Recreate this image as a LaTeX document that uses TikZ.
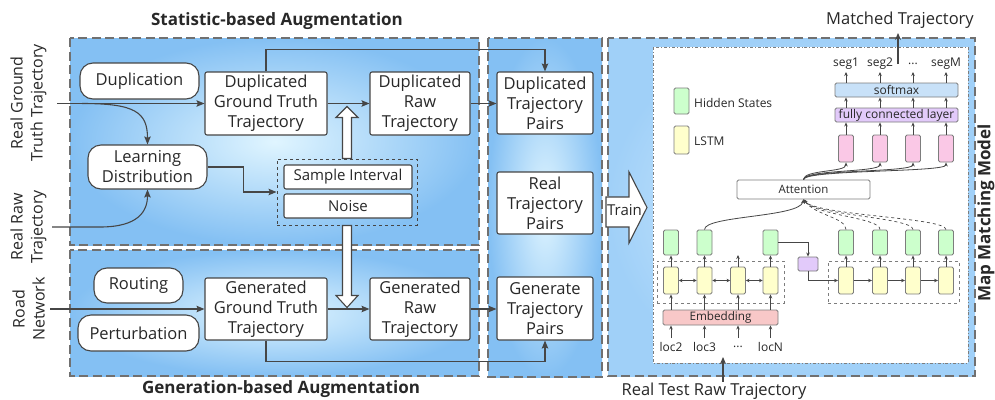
\documentclass[tikz,border=0pt]{standalone}
\usepackage{fontspec}
\setmainfont{Open Sans}
\usetikzlibrary{arrows.meta,calc}

\definecolor{edgegray}{RGB}{70,70,70}
\definecolor{dashgray}{RGB}{112,112,112}
\definecolor{cellgray}{RGB}{125,125,125}
\definecolor{txt}{RGB}{40,40,40}
\definecolor{panelout}{RGB}{132,192,243}
\definecolor{panelin}{RGB}{224,245,255}
\definecolor{modelout}{RGB}{160,208,248}
\definecolor{modelin}{RGB}{215,238,255}
\definecolor{hidgreen}{RGB}{204,255,204}
\definecolor{lstmyellow}{RGB}{255,255,204}
\definecolor{pinkcell}{RGB}{250,200,230}
\definecolor{embred}{RGB}{248,200,200}
\definecolor{smblue}{RGB}{200,225,248}
\definecolor{fcpurple}{RGB}{226,202,250}

\tikzset{
  panel/.style={draw=dashgray, line width=2.8pt, dash pattern=on 9pt off 4.5pt,
    inner color=panelin, outer color=panelout},
  title/.style={font=\fontsize{17}{20}\selectfont\bfseries, text=txt, inner sep=1pt},
  sidelabel/.style={rotate=90, align=center, text=txt, inner sep=1pt,
    font=\fontsize{16}{20}\selectfont},
  box/.style={draw=edgegray, line width=1.1pt, fill=white, rounded corners=2pt,
    align=center, inner sep=0pt, text=txt, font=\fontsize{16.5}{20}\selectfont},
  pill/.style={box, rounded corners=13pt},
  smallbox/.style={box, font=\fontsize{15}{17}\selectfont},
  conn/.style={draw=edgegray, line width=1.1pt,
    -{Stealth[length=8pt,width=6.5pt,inset=1.5pt]}},
  hollow/.style={draw=edgegray, line width=1.1pt, fill=white, line join=miter},
  cell/.style={draw=cellgray, line width=0.9pt, rounded corners=1.5pt,
    minimum width=15pt, inner sep=0pt},
  hid/.style={cell, fill=hidgreen, minimum height=25pt},
  lstm/.style={cell, fill=lstmyellow, minimum height=27pt},
  pinkc/.style={cell, fill=pinkcell, minimum height=27pt},
  layer/.style={cell, minimum width=123pt, minimum height=14pt, text=txt,
    font=\fontsize{12}{13}\selectfont},
  mtext/.style={text=txt, inner sep=1pt, font=\fontsize{12}{14}\selectfont},
  sarr/.style={draw=edgegray, line width=0.8pt, -{Stealth[length=4pt,width=3.5pt]}},
  darr/.style={draw=edgegray, line width=0.8pt,
    {Stealth[length=3.5pt,width=3.5pt]}-{Stealth[length=3.5pt,width=3.5pt]}},
  grpbox/.style={draw=cellgray, line width=0.8pt, dashed},
  bigarr/.style={draw=edgegray, line width=1.4pt, -{Stealth[length=7pt,width=6pt]}},
  outtext/.style={text=txt, inner sep=1pt, font=\fontsize{16.5}{19}\selectfont},
}

\begin{document}
\begin{tikzpicture}[x=1pt,y=-1pt]
\useasboundingbox[fill=white] (0,0) rectangle (995,399);

% ---------- panels ----------
\shadedraw[panel] (70,38) rectangle (479,245);
\shadedraw[panel] (70,250) rectangle (479,376);
\shadedraw[panel] (488,38) rectangle (602,377);
\shadedraw[panel, inner color=modelin, outer color=modelout] (608,38) rectangle (975,376);
\draw[draw=cellgray, line width=0.8pt, dash dot, fill=white] (653,47) rectangle (968,363);

% ---------- titles ----------
\node[title] (sttitle) at (277,21) {Statistic-based Augmentation};
\node[title] (gentitle) at (281,389) {Generation-based Augmentation};
\node[title, rotate=90] (mmtitle) at (986,213) {Map Matching Model};

% ---------- inputs ----------
\node[sidelabel] (gtlabel) at (28.5,103) {Real Ground\\Truth Trajectory};
\node[sidelabel] (rawlabel) at (28.5,227) {Real Raw\\Trajectory};
\node[sidelabel] (roadlabel) at (28.5,309) {Road\\Network};
\coordinate (gtin) at (57,103.5);
\coordinate (gtbranch) at (82,103.5);
\coordinate (rawin) at (52,227);
\coordinate (roadin) at (50,309);

% ---------- statistic-based augmentation ----------
\node[pill, minimum width=119pt, minimum height=36pt] (dup) at (139.5,81) {Duplication};
\node[box, minimum width=122pt, minimum height=63pt] (gtdup) at (266,103.5)
  {Duplicated\\Ground Truth\\Trajectory};
\node[box, minimum width=100pt, minimum height=63pt] (rawdup) at (420,103.5)
  {Duplicated\\Raw\\Trajectory};
\node[pill, minimum width=119pt, minimum height=44pt]
  (learn) at (147.5,167) {Learning\\Distribution};
\node[grpbox, draw=edgegray, line width=1pt, minimum width=140pt, minimum height=66pt]
  (sgrp) at (347,192) {};
\node[smallbox, minimum width=128pt, minimum height=24pt] (samp) at (348,177) {Sample Interval};
\node[smallbox, minimum width=128pt, minimum height=24pt] (noise) at (348,206) {Noise};

% ---------- generation-based augmentation ----------
\node[pill, minimum width=89pt, minimum height=35pt] (routing) at (138.5,285.5) {Routing};
\node[pill, minimum width=121pt, minimum height=36pt] (perturb) at (138.5,333) {Perturbation};
\node[box, minimum width=122pt, minimum height=62pt] (gtgen) at (266,309)
  {Generated\\Ground Truth\\Trajectory};
\node[box, minimum width=100pt, minimum height=62pt] (rawgen) at (420,309)
  {Generated\\Raw\\Trajectory};

% ---------- trajectory pairs ----------
\node[box, minimum width=96pt, minimum height=62pt] (pdup) at (545,103)
  {Duplicated\\Trajectory\\Pairs};
\node[box, minimum width=96pt, minimum height=62pt] (preal) at (545,203)
  {Real\\Trajectory\\Pairs};
\node[box, minimum width=96pt, minimum height=63pt] (pgen) at (545,308.5)
  {Generate\\Trajectory\\Pairs};

% ---------- connectors ----------
\draw[conn] (gtin) -- (gtdup.west);
\draw[conn] (gtbranch) .. controls (135,103.5) and (147.5,112) .. (learn.north);
\draw[conn] (rawin) -- ++(48,0) .. controls +(38,0) and +(0,22) .. (learn.south);
\draw[conn] (learn.east) -- ++(36,0) |- (sgrp.west);
\draw[conn] (gtdup) -- (rawdup);
\draw[conn] (rawdup) -- (rawdup -| pdup.west);
\draw[conn] (gtdup.north) -- ++(0,-22) -| (pdup.north);
\draw[conn] (roadin) -- (gtgen.west);
\draw[conn] (gtgen) -- (rawgen);
\draw[conn] (rawgen) -- (rawgen -| pgen.west);
\draw[conn] (gtgen.south) -- ++(0,21) -| (pgen.south);

% hollow block arrows
\draw[hollow] ($(sgrp.north)+(-4.5,0)$) -- ++(0,-41) -- ++(-6.5,0) -- ++(11,-11)
  -- ++(11,11) -- ++(-6.5,0) -- ++(0,41) -- cycle;
\draw[hollow] ($(sgrp.south)+(-4.5,0)$) -- ++(0,70) -- ++(-6.5,0) -- ++(11,12)
  -- ++(11,-12) -- ++(-6.5,0) -- ++(0,-70) -- cycle;
\draw[hollow] (606,197) -- (629,197) -- (629,172) -- (647,207.5) -- (629,243)
  -- (629,227) -- (606,227) -- cycle;
\node[text=txt, inner sep=0pt, font=\fontsize{15}{17}\selectfont] (train) at (624.5,210.5) {Train};

% ---------- map matching model ----------
% legend
\node[hid, minimum height=26pt] (leghid) at (681.5,101) {};
\node[mtext, anchor=west] (leghidtxt) at (693,103) {Hidden States};
\node[lstm, minimum height=28pt] (leglstm) at (681.5,140) {};
\node[mtext, anchor=west] (leglstmtxt) at (693,141) {LSTM};

% encoder
\node[grpbox] (encgrp) at (720.5,282) [minimum width=127pt, minimum height=42pt] {};
\foreach \i/\x in {1/671,2/704.5,3/738,4/770.5}{
  \node[lstm] (yL\i) at (\x,280.5) {};
}
\node[hid] (gL1) at (671,242.5) {};
\node[hid] (gL2) at (704.5,242.5) {};
\coordinate (gL3) at (738,255);
\node[hid] (gL4) at (770.5,242.5) {};
\node[cell, fill=embred, minimum width=115pt, minimum height=15pt, text=txt,
  font=\fontsize{11.7}{13}\selectfont] (emb) at (720.5,317.5) {Embedding};
\node[mtext] (loc2) at (671,347) {loc2};
\node[mtext] (loc3) at (704.5,347) {loc3};
\node[mtext] (locd) at (738,347) {...};
\node[mtext] (locN) at (770.5,347) {locN};
\foreach \n/\i in {loc2/1,loc3/2,locd/3,locN/4}{
  \draw[sarr] (\n.north |- 0,338) -- (\n.north |- emb.south);
  \draw[sarr] (yL\i |- emb.north) -- (yL\i.south);
}
\draw[sarr] (yL1.north) -- (gL1.south);
\draw[sarr] (yL2.north) -- (gL2.south);
\draw[sarr] (yL3.north) -- (gL3);
\draw[sarr] (yL4.north) -- (gL4.south);
\draw[darr] (yL1) -- (yL2);
\draw[darr] (yL2) -- (yL3);
\draw[darr] (yL3) -- (yL4);

% bridge
\node[cell, fill=fcpurple, minimum width=20pt, minimum height=14pt] (bridge) at (808,264) {};
\draw[sarr] (gL4.east) -| (bridge.north);

% decoder
\node[grpbox] (decgrp) at (893.5,282) [minimum width=131pt, minimum height=42pt] {};
\foreach \i/\x in {1/846,2/880,3/913,4/946}{
  \node[lstm] (yR\i) at (\x,280.5) {};
  \node[hid] (gR\i) at (\x,242.5) {};
  \node[pinkc] (pk\i) at (\x,148.5) {};
  \draw[sarr] (yR\i.north) -- (gR\i.south);
}
\draw[sarr] (bridge.south) |- (yR1.west);
\draw[sarr] (yR1) -- (yR2);
\draw[sarr] (yR2) -- (yR3);
\draw[sarr] (yR3) -- (yR4);

% attention
\node[cell, draw=cellgray, fill=white, minimum width=133pt, minimum height=19pt, text=txt,
  font=\fontsize{11.5}{13}\selectfont] (att) at (803.5,189.5) {Attention};
\draw[sarr] (gL2.north) .. controls +(0,-14) and +(-4,18) .. (att.south);
\foreach \i in {1,2,3,4}{
  \draw[draw=edgegray, line width=0.7pt, dashed, -{Stealth[length=4pt,width=3.5pt]}]
    (gR\i.north) .. controls +(0,-12) and +(12,16) .. (att.south);
  \draw[sarr] (att.north) .. controls +(0,-10) and +(0,10) .. (pk\i.south);
}

% output layers
\node[layer, fill=fcpurple] (fc) at (896.5,115) {fully connected layer};
\node[layer, fill=smblue] (sm) at (896.5,90) {softmax};
\node[mtext] (seg1) at (846,64) {seg1};
\node[mtext] (seg2) at (880,64) {seg2};
\node[mtext] (segd) at (913,64) {...};
\node[mtext] (segM) at (946,64) {segM};
\foreach \i/\s in {1/seg1,2/seg2,3/segd,4/segM}{
  \draw[sarr] (pk\i.north) -- (pk\i.north |- fc.south);
  \draw[sarr] (pk\i.north |- fc.north) -- (pk\i.north |- sm.south);
  \draw[sarr] (pk\i.north |- sm.north) -- (pk\i.north |- 0,72);
}

% model output / input
\node[outtext] (mt) at (900,20) {Matched Trajectory};
\coordinate (mtout) at (898,64);
\draw[bigarr] (mtout) -- (mtout |- 0,33);
\node[outtext] (rt) at (714,391) {Real Test Raw Trajectory};
\draw[bigarr] (rt.north -| 723,0) -- (723,357);
\end{tikzpicture}
\end{document}
